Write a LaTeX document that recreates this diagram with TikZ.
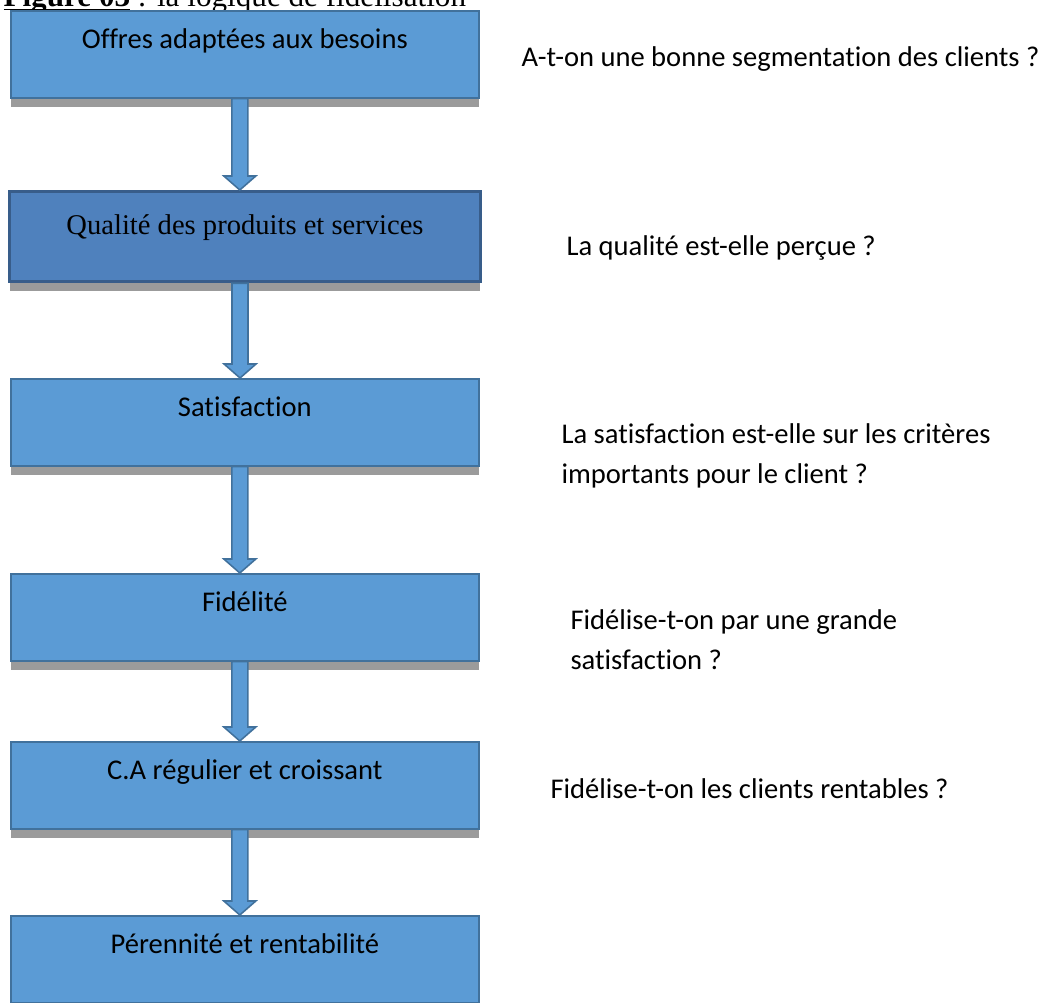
\documentclass[tikz,border=0pt]{standalone}
\usepackage{fontspec}
\setmainfont{Carlito}[Ligatures=NoCommon]
\newfontfamily\timesfont{Liberation Serif}
\usetikzlibrary{calc,shadows}
\definecolor{boxfill}{HTML}{5B9BD5}
\definecolor{boxline}{HTML}{41719C}
\definecolor{darkfill}{HTML}{4F81BD}
\definecolor{darkline}{HTML}{385D8A}
\definecolor{shadowgray}{HTML}{9B9B9B}

\begin{document}
\begin{tikzpicture}[x=0.385pt, y=-0.385pt, font=\fontsize{11}{15.4}\selectfont,
	main/.style = {draw=boxline, fill=boxfill, line width=0.6pt, anchor=north west, minimum width=180.2pt, inner xsep=0pt, inner ysep=0pt, text height=14.6pt, text depth=18.9pt, drop shadow={shadow xshift=0pt, shadow yshift=-3.5pt, fill=shadowgray, opacity=1}},
	dark/.style = {main, draw=darkline, fill=darkfill, line width=1.2pt, minimum width=181.3pt, text height=16.6pt, text depth=18.1pt, font=\timesfont\fontsize{11}{13}\selectfont},
	quest/.style = {anchor=base west, inner sep=0pt, align=left},
	flow/.style = {draw=boxline, fill=boxfill, line width=0.6pt, to path={($(\tikztostart)+(-13,0)$) -- ($(\tikztostart)+(3,0)$) -- ($(\tikztotarget -| \tikztostart)+(3,-14)$) -- ($(\tikztotarget -| \tikztostart)+(11,-14)$) -- ($(\tikztotarget -| \tikztostart)+(-5,0)$) -- ($(\tikztotarget -| \tikztostart)+(-21,-14)$) -- ($(\tikztotarget -| \tikztostart)+(-13,-14)$) -- cycle}}]
		\useasboundingbox (0,0) rectangle (1059,1003);
		\clip (0,0) rectangle (1059,1003);
		\node[anchor=base west, inner sep=0pt, font=\timesfont\fontsize{12}{14}\selectfont] (title) at (3,6) {\textbf{\underline{\smash{Figure 03}}} : la logique de fidélisation};
		
		\node[main] (1) at (10,10) {Offres adaptées aux besoins};
		\node[dark] (2) at (8,190) {Qualité des produits et services};
		\node[main] (3) at (10,378) {Satisfaction};
		\node[main] (4) at (10,573) {Fidélité};
		\node[main] (5) at (10,741) {C.A régulier et croissant};
		\node[main] (6) at (10,915) {Pérennité et rentabilité};
		
		\node[quest] (q1) at (521,66) {A-t-on une bonne segmentation des clients ?};
		\node[quest] (q2) at (566,255) {La qualité est-elle perçue ?};
		\node[quest] (q3) at (561,483) {La satisfaction est-elle sur les critères\\ importants pour le client ?};
		\node[quest] (q4) at (570,669) {Fidélise-t-on par une grande\\ satisfaction ?};
		\node[quest] (q5) at (550,798) {Fidélise-t-on les clients rentables ?};
		
		\path[flow] (1.south) to (2.north);
		\path[flow] (2.south) to (3.north);
		\path[flow] (3.south) to (4.north);
		\path[flow] (4.south) to (5.north);
		\path[flow] (5.south) to (6.north);
	\end{tikzpicture}
\end{document}
